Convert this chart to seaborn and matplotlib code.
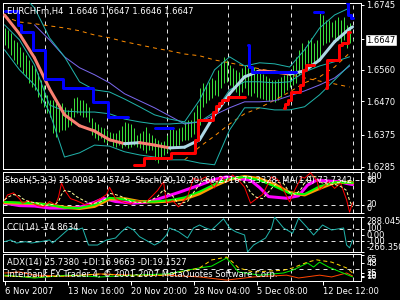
import matplotlib
matplotlib.use("Agg")
import matplotlib.pyplot as plt
import seaborn as sns
import numpy as np

W, H = 400, 300

# ---------------- data ----------------
bar_high = [1.6679,1.6674,1.6665,1.6645,1.6640,1.6625,1.6611,1.6603,1.6588,1.6574,
            1.6566,1.6551,1.6531,1.6517,1.6489,1.6474,1.6474,1.6466,1.6460,1.6466,
            1.6455,1.6446,1.6452,1.6480,1.6483,1.6474,1.6474,1.6466,1.6455,1.6423,
            1.6412,1.6406,1.6398,1.6395,1.6389,1.6383,1.6381,1.6381,1.6389,1.6401,
            1.6412,1.6409,1.6406,1.6395,1.6375,1.6381,1.6386,1.6398,1.6381,1.6375,
            1.6366,1.6361,1.6355,1.6358,1.6375,1.6395,1.6398,1.6389,1.6395,1.6398,
            1.6412,1.6418,1.6418,1.6440,1.6460,1.6509,1.6523,1.6517,1.6526,1.6537,
            1.6531,1.6560,1.6583,1.6597,1.6588,1.6574,1.6566,1.6560,1.6554,1.6566,
            1.6574,1.6571,1.6566,1.6568,1.6560,1.6554,1.6548,1.6543,1.6537,1.6531,
            1.6531,1.6534,1.6540,1.6546,1.6554,1.6560,1.6574,1.6597,1.6617,1.6637,
            1.6625,1.6645,1.6651,1.6637,1.6645,1.6722,1.6716,1.6702,1.6702,1.6696,
            1.6702,1.6711,1.6702,1.6711,1.6688,1.6694,1.6647]
bar_low = [1.6631,1.6622,1.6603,1.6588,1.6577,1.6568,1.6551,1.6540,1.6523,1.6511,
           1.6503,1.6483,1.6466,1.6455,1.6438,1.6426,1.6381,1.6369,1.6383,1.6389,
           1.6389,1.6398,1.6403,1.6426,1.6438,1.6432,1.6426,1.6426,1.6412,1.6375,
           1.6366,1.6361,1.6366,1.6355,1.6352,1.6358,1.6343,1.6341,1.6346,1.6338,
           1.6343,1.6338,1.6341,1.6346,1.6341,1.6338,1.6332,1.6324,1.6332,1.6332,
           1.6304,1.6295,1.6309,1.6318,1.6327,1.6332,1.6338,1.6341,1.6346,1.6358,
           1.6361,1.6361,1.6369,1.6378,1.6389,1.6403,1.6455,1.6466,1.6474,1.6480,
           1.6489,1.6486,1.6509,1.6523,1.6526,1.6517,1.6509,1.6497,1.6480,1.6497,
           1.6509,1.6489,1.6486,1.6494,1.6483,1.6480,1.6477,1.6474,1.6472,1.6474,
           1.6469,1.6474,1.6483,1.6494,1.6503,1.6511,1.6517,1.6523,1.6546,1.6554,
           1.6568,1.6580,1.6577,1.6568,1.6588,1.6594,1.6631,1.6637,1.6640,1.6654,
           1.6645,1.6645,1.6637,1.6645,1.6622,1.6637,1.6646]

samp5 = list(range(0, 116, 5))
ma_x = samp5 + [116]
ma_fast = [1.6716,1.6662,1.6594,1.6506,1.6432,1.6401,1.6386,1.6361,1.6350,1.6353,
           1.6346,1.6338,1.6340,1.6361,1.6432,1.6492,1.6540,1.6557,1.6554,1.6548,
           1.6557,1.6588,1.6640,1.6677,1.6682]
band_upper = [1.6816,1.6782,1.6736,1.6651,1.6597,1.6526,1.6503,1.6497,1.6477,1.6455,1.6432,1.6420,
              1.6412,1.6474,1.6560,1.6597,1.6571,1.6580,1.6577,1.6568,1.6617,1.6679,1.6716,1.6736]
band_mid = [1.6688,1.6645,1.6574,1.6460,1.6443,1.6440,1.6440,1.6435,1.6420,1.6412,1.6406,1.6406,
            1.6409,1.6412,1.6440,1.6503,1.6526,1.6526,1.6523,1.6526,1.6554,1.6571,1.6583,1.6597]
band_lower = [1.6617,1.6560,1.6517,1.6440,1.6312,1.6324,1.6346,1.6343,1.6327,1.6318,1.6312,1.6304,
              1.6304,1.6295,1.6290,1.6389,1.6452,1.6452,1.6446,1.6446,1.6455,1.6489,1.6531,1.6574]
slow_x = list(range(10, 116, 5))
ma_slow = [1.6688,1.6645,1.6597,1.6566,1.6546,1.6523,1.6492,1.6472,1.6452,1.6429,1.6406,
           1.6412,1.6432,1.6452,1.6469,1.6469,1.6472,1.6486,1.6500,1.6517,1.6537,1.6571]
ma_long = [1.6711,1.6696,1.6691,1.6685,1.6679,1.6671,1.6659,1.6651,1.6640,1.6631,1.6622,1.6614,
           1.6605,1.6600,1.6588,1.6580,1.6571,1.6563,1.6554,1.6546,1.6537,1.6528,1.6520,1.6511]
env_x = list(range(60, 116, 5))
env_low = [1.6304,1.6341,1.6372,1.6406,1.6435,1.6452,1.6474,1.6497,1.6523,1.6540,1.6568,1.6608]

# step trailing lines: (first bar, last bar, level)
blue_steps = [
    [(0, 4, 1.6728), (5, 5, 1.6688), (6, 9, 1.6668), (10, 13, 1.6617), (14, 19, 1.6534),
     (20, 29, 1.6509), (30, 34, 1.6469), (35, 41, 1.6426)],
    [(50, 56, 1.6395)],
    [(81, 81, 1.6631), (82, 82, 1.6568), (83, 97, 1.6554)],
    [(103, 106, 1.6725)],
    [(114, 114, 1.6750), (115, 115, 1.6716), (116, 116, 1.6708)],
]
red_steps = [
    [(43, 46, 1.6290), (47, 55, 1.6309), (56, 63, 1.6324), (64, 64, 1.6361), (65, 69, 1.6418),
     (70, 70, 1.6440), (71, 71, 1.6457), (72, 72, 1.6466), (73, 74, 1.6474), (75, 80, 1.6483)],
    [(93, 93, 1.6452), (94, 94, 1.6463), (95, 95, 1.6474), (96, 98, 1.6497), (99, 99, 1.6517),
     (100, 100, 1.6560), (101, 103, 1.6574)],
    [(107, 107, 1.6509), (108, 111, 1.6588), (112, 112, 1.6631), (113, 114, 1.6637), (115, 115, 1.6668)],
]

price_ticks = [1.6745, 1.6647, 1.6560, 1.6470, 1.6375, 1.6285]
current_price = 1.6647

# stochastic window
sto_fast_x = [0,1,3,5,6,8,11,13,15,17,18,19,20,22,24,27,29,32,34,35,37,39,42,44,47,49,51,53,54,56,
              58,61,63,65,67,70,72,74,76,78,80,82,84,86,89,91,93,95,97,99,100,102,104,105,108,110,112,114,115,116]
sto_fast_main = [30,44,49,35,24,30,18,15,28,20,39,73,56,35,30,20,22,35,45,63,35,28,22,30,25,40,55,76,24,30,
                 15,40,85,80,88,61,90,75,93,80,63,24,35,45,88,82,56,27,60,88,85,98,80,56,76,60,73,32,2,25.0008]
sto_fast_sig = [32,38,45,42,35,28,24,18,20,22,28,45,55,52,40,28,22,27,36,48,45,40,28,26,26,32,40,57,50,42,
                22,28,50,70,84,75,80,76,85,83,75,50,38,35,60,75,72,50,45,60,75,90,88,75,70,70,65,55,30,14.5743]
sto_slow_x = [0,5,10,15,20,25,30,33,37,43,48,52,58,65,70,74,78,82,85,88,94,98,101,104,108,112,114,116]
sto_slow_main = [24,18,17,12,12,14,26,36,28,24,27,36,50,68,82,88,84,80,62,40,36,42,68,80,78,76,72,69.27]
sto_slow_sig = [25,24,23,20,14,11,16,34,35,28,27,29,34,47,66,82,89,84,70,50,44,60,74,75,73.33]
sto_ma = [27,25,24,20,13,12,20,37,33,27,28,31,38,52,70,84,88,80,65,48,46,65,75,74,73.73]

# CCI window
cci_x = [0,2,4,7,9,12,15,16,18,21,22,24,26,28,31,33,34,37,39,41,43,45,47,50,52,54,55,58,61,63,
         65,67,69,73,75,77,80,81,83,87,89,90,93,96,98,101,103,106,109,113,114,115,116]
cci = [-103,-76,-124,-103,-124,-103,-76,-124,-45,82,114,82,114,-156,-156,-103,-76,-45,55,134,
       82,-24,-76,-156,-103,3,114,55,-45,114,161,114,82,260,114,55,3,-266.35,-156,-45,
       114,288.0453,114,30,270,114,3,161,82,114,-156,-200,-74.8634]

# ADX window
adx_x = [0,10,21,32,43,54,65,69,74,76,78,83,93,96,101,104,109,114,116]
adx = [19,17,19,23.6,19,21,37,54.7,61.3,50,37,28,32,37,50,55,50,37,25.738]
pdi_x = [0,10,21,32,43,54,65,69,74,76,78,85,93,96,101,103,105,108,112,116]
pdi = [21,14.7,21,17,21,23.6,37,41,59,43.6,28,21,25.8,32,48,39,50,39,28,16.9663]
mdi_x = [0,5,10,21,32,43,54,65,74,83,94,98,105,109,114,116]
mdi = [25.8,28,21,19,23.6,21,21,17,10,17,21,14.7,21,17,25.8,19.1527]

grid_pos = [13.5, 34, 54, 74.5, 95.5, 116]
xtick_pos = [0, 21, 42, 63, 84, 106]
xtick_labels = ["6 Nov 2007", "13 Nov 16:00", "20 Nov 20:00", "28 Nov 04:00", "5 Dec 08:00", "12 Dec 12:00"]

# ---------------- style ----------------
sns.set_theme(style="dark", rc={"axes.facecolor": "black", "figure.facecolor": "black"})
plt.rcParams["font.family"] = ["DejaVu Sans"]
PX = 0.72
FS = 6.0
WHITE = "white"

fig = plt.figure(figsize=(4, 3), dpi=100)
fig.patch.set_facecolor("black")


def rect(x0, y0, x1, y1):
    return [x0 / W, 1 - y1 / H, (x1 - x0) / W, (y1 - y0) / H]


def make_ax(r):
    ax = fig.add_axes(rect(*r))
    ax.set_facecolor("black")
    for s in ax.spines.values():
        s.set_color(WHITE)
        s.set_linewidth(1.0 * PX)
        s.set_visible(True)
    ax.set_xlim(-0.5, 118.8)
    ax.grid(False)
    ax.yaxis.tick_right()
    ax.tick_params(axis="y", colors=WHITE, labelcolor=WHITE, labelsize=FS, length=2, width=PX,
                   direction="out", pad=2, left=False, right=True)
    ax.tick_params(axis="x", bottom=False, labelbottom=False)
    ax.set_xlabel("")
    ax.set_ylabel("")
    for g in grid_pos:
        ax.axvline(g, color="#e0e0e0", lw=PX, ls=(0, (4, 4)), zorder=1)
    return ax


def line(ax, x, y, color, lw, ls="-", z=3):
    sns.lineplot(x=x, y=y, ax=ax, color=color, linewidth=lw * PX, linestyle=ls,
                 legend=False, estimator=None, zorder=z)


# ---------------- main panel ----------------
ax = make_ax((3, 3, 361, 169))
ax.set_ylim(1.6278, 1.6750)
bx = np.arange(len(bar_high))
ax.vlines(bx, bar_low, bar_high, color="#3ade3a", lw=PX, zorder=2)

line(ax, ma_x[:-1], ma_long, "#ff8c00", 1, ls=(0, (4, 4)))
line(ax, env_x, env_low, "#ff8c00", 1, ls=(0, (4, 4)))
line(ax, slow_x, ma_slow, "#7b68ee", 1)
line(ax, samp5, band_upper, "#20b2aa", 1)
line(ax, samp5, band_mid, "#20b2aa", 1)
line(ax, samp5, band_lower, "#20b2aa", 1)

for k in range(len(ma_x) - 1):
    c = "#add8e6" if ma_fast[k + 1] >= ma_fast[k] else "#fa8072"
    ax.plot(ma_x[k:k + 2], ma_fast[k:k + 2], color=c, lw=3 * PX, solid_capstyle="round", zorder=4)


def draw_steps(steps, color):
    for seg in steps:
        xs, ys = [], []
        for a, b, lvl in seg:
            for i in range(a, b + 1):
                xs.append(i)
                ys.append(lvl)
        ax.plot(xs, ys, drawstyle="steps-mid", color=color, lw=3 * PX, zorder=5)


draw_steps(blue_steps, "#0000ff")
draw_steps(red_steps, "#ff0000")

ax.set_yticks(price_ticks)
ax.set_yticklabels([f"{p:.4f}" for p in price_ticks])
for t, p in zip(ax.get_yticklabels(), price_ticks):
    if abs(p - current_price) < 1e-9:
        t.set_color("black")
        t.set_bbox(dict(facecolor="white", edgecolor="black", pad=1.2))
ax.text(0.012, 0.975, "EURCHFm,H4  1.6646 1.6647 1.6646 1.6647", transform=ax.transAxes,
        color=WHITE, fontsize=FS, va="top", ha="left", zorder=10)

# ---------------- stochastic ----------------
ax2 = make_ax((3, 172, 361, 213))
ax2.set_ylim(0, 100)
for lvl in (20, 80):
    ax2.axhline(lvl, color="#e0e0e0", lw=PX, ls=(0, (4, 4)), zorder=1)
line(ax2, sto_slow_x, sto_slow_main, "#ff00ff", 3)
line(ax2, ma_x, sto_slow_sig, "#ff9900", 3)
line(ax2, ma_x, sto_ma, "#00ff00", 2)
line(ax2, sto_fast_x, sto_fast_main, "#ff0000", 1, z=5)
line(ax2, sto_fast_x, sto_fast_sig, "#ffffa0", 1, ls=(0, (3, 2)), z=6)
ax2.set_yticks([100, 80, 20, 0])
ax2.set_yticklabels(["100", "80", "20", "0"])
vas = ["top", "center", "center", "bottom"]
for t, v in zip(ax2.get_yticklabels(), vas):
    t.set_va(v)
ax2.text(0.006, 0.80, "Stoch(5,3,3) 25.0008 14.5743  Stoch(20,10,20) 69.2716 73.3328  MA(1,0) 73.7342",
         transform=ax2.transAxes, color=WHITE, fontsize=FS, va="center", ha="left", zorder=10)

# ---------------- CCI ----------------
ax3 = make_ax((3, 217, 361, 252))
ax3.set_ylim(-266.35, 288.0453)
for lvl in (100, -100):
    ax3.axhline(lvl, color="#e0e0e0", lw=PX, ls=(0, (4, 4)), zorder=1)
line(ax3, cci_x, cci, "#20b2aa", 1)
cci_ticks = [288.0453, 100, 0, -100, -266.35]
ax3.set_yticks(cci_ticks)
ax3.set_yticklabels(["288.0453", "100", "0.00", "-100", "-266.350"])
for t, v in zip(ax3.get_yticklabels(), ["top", "center", "center", "center", "bottom"]):
    t.set_va(v)
ax3.text(0.012, 0.70, "CCI(14) -74.8634", transform=ax3.transAxes, color=WHITE,
         fontsize=FS, va="center", ha="left", zorder=10)

# ---------------- ADX ----------------
ax4 = make_ax((3, 254, 361, 281))
ax4.set_ylim(8, 68)
ax4.axhline(35, color="#e0e0e0", lw=PX, ls=(0, (4, 4)), zorder=1)
line(ax4, mdi_x, mdi, "#ff4500", 1)
line(ax4, pdi_x, pdi, "#00ee00", 1)
line(ax4, adx_x, adx, "#ffd700", 1, ls=(0, (4, 3)))
ax4.set_yticks([65, 48, 25.738, 19.1527, 16.9663])
ax4.set_yticklabels(["65", "48", "25", "19", "16"])
for t, v in zip(ax4.get_yticklabels(), ["top", "center", "center", "center", "center"]):
    t.set_va(v)
ax4.text(0.012, 0.68, "ADX(14) 25.7380 +DI:16.9663 -DI:19.1527", transform=ax4.transAxes,
         color=WHITE, fontsize=FS, va="center", ha="left", zorder=10)
ax4.text(0.012, 0.25, "Interbank FX Trader 4, \u00a9 2001-2007 MetaQuotes Software Corp.",
         transform=ax4.transAxes, color=WHITE, fontsize=FS, va="center", ha="left", zorder=10)
ax4.set_xticks(xtick_pos)
ax4.set_xticklabels(xtick_labels)
ax4.tick_params(axis="x", bottom=True, labelbottom=True, colors=WHITE, labelcolor=WHITE,
                labelsize=FS, length=3, width=PX, direction="out", pad=1)
for t in ax4.get_xticklabels():
    t.set_ha("left")

fig.savefig("out.png", dpi=100, facecolor="black")
